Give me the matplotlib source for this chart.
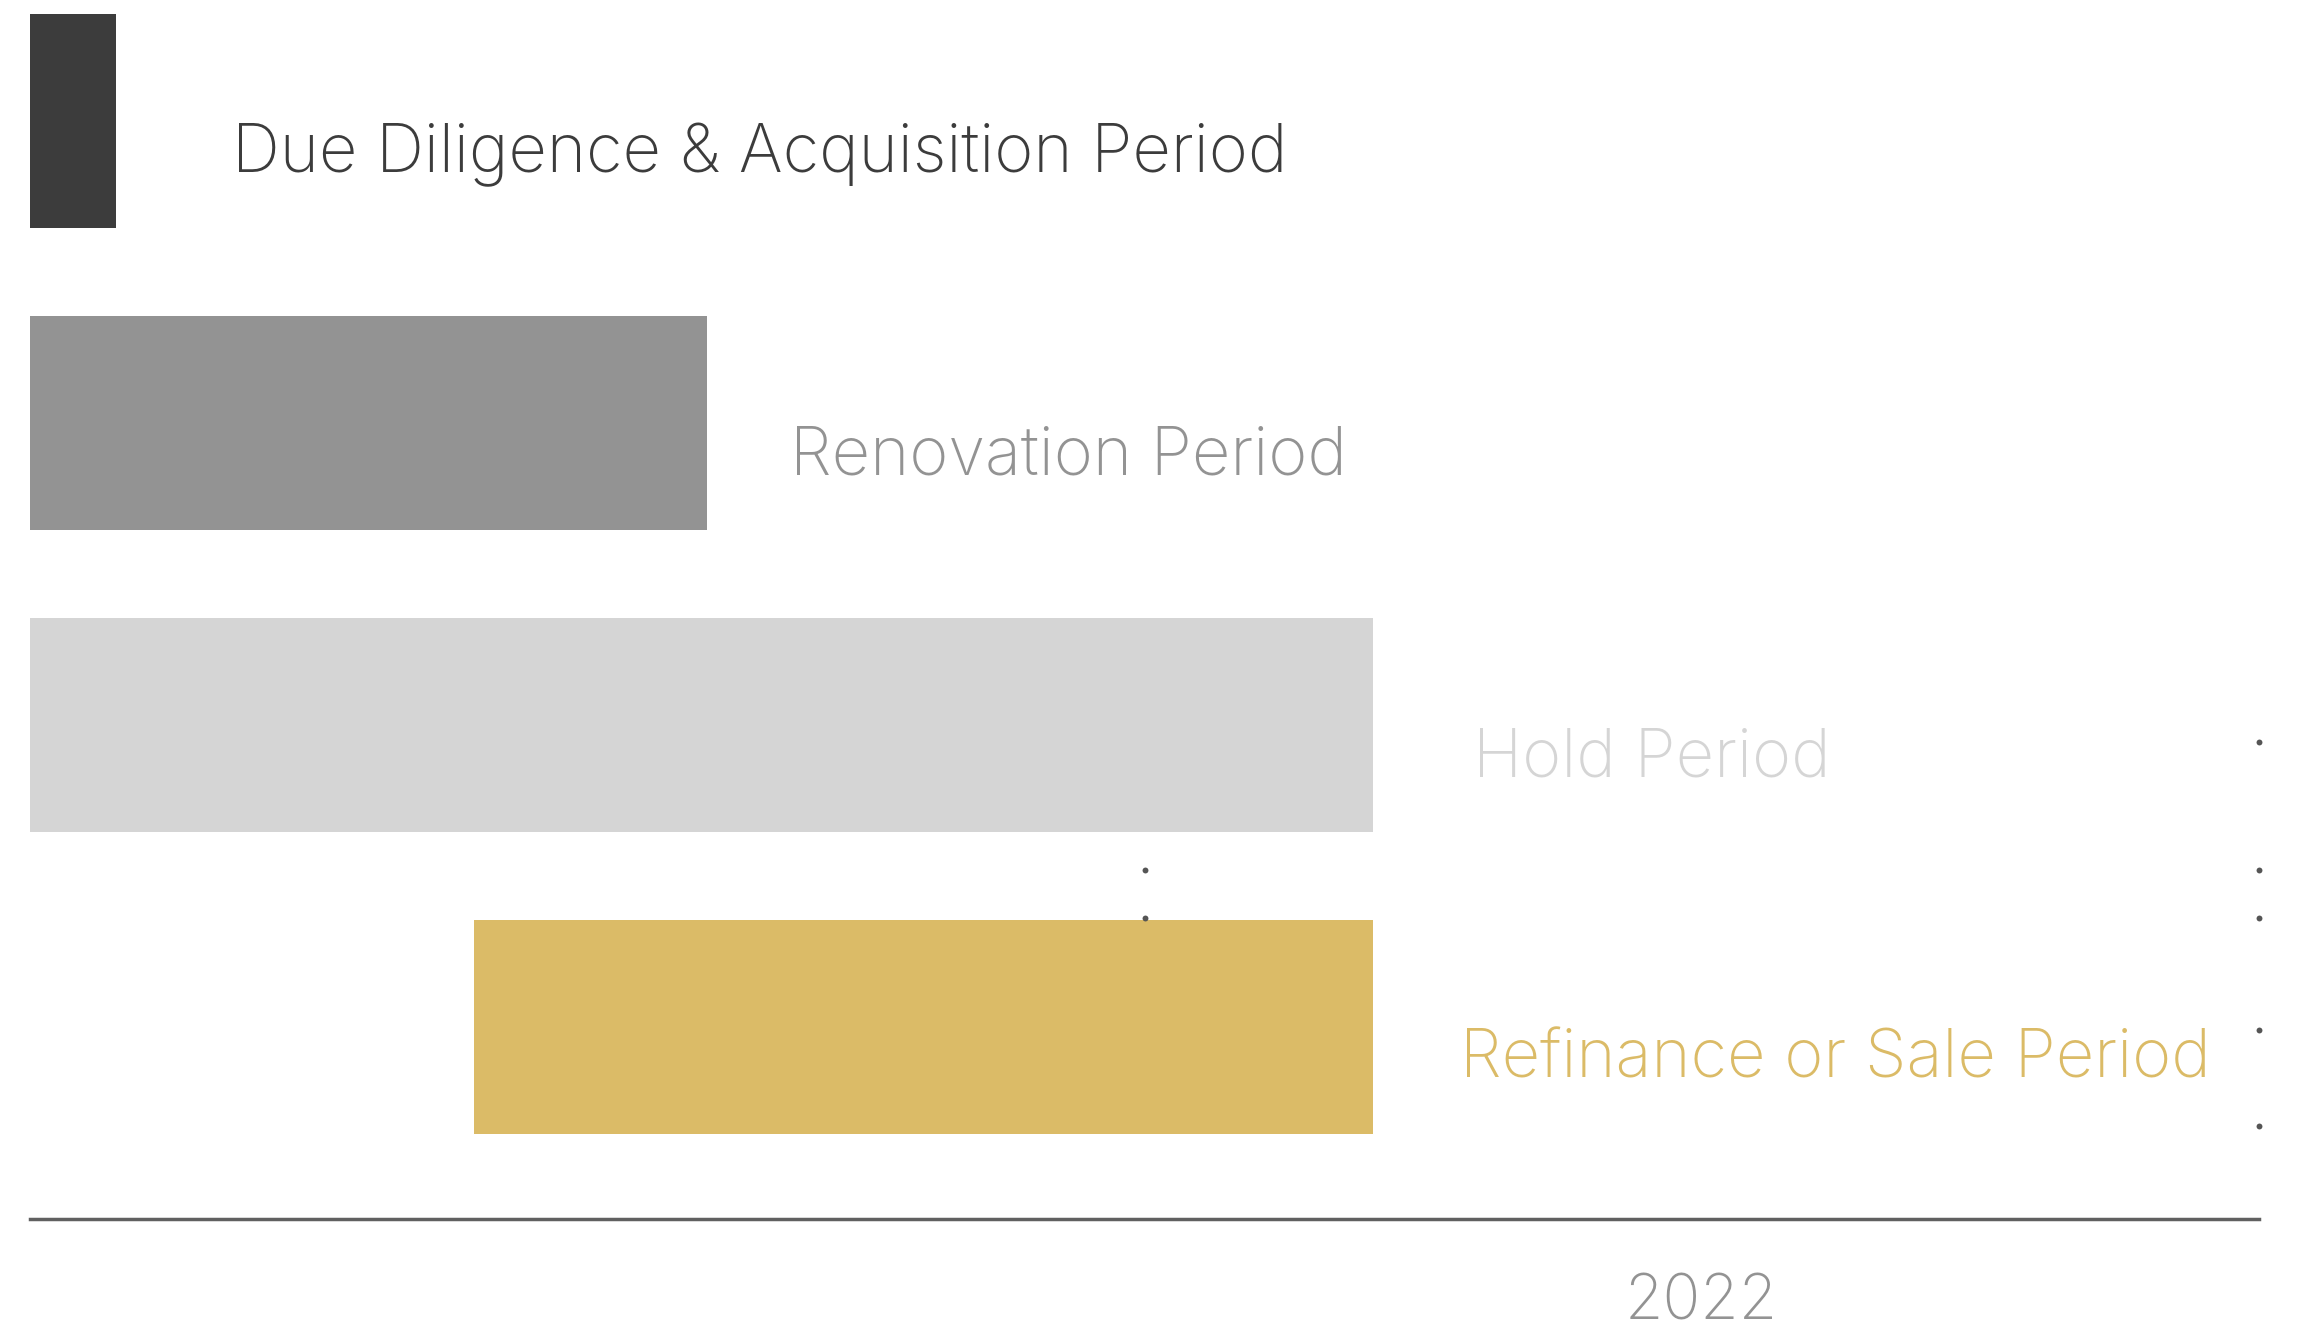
import matplotlib
matplotlib.use("Agg")
import matplotlib.pyplot as plt

# ---- data ----
phases = ["Due Diligence & Acquisition Period", "Renovation Period",
          "Hold Period", "Refinance or Sale Period"]
starts = [0.0, 0.0, 0.0, 5.18]
ends = [1.0, 7.9, 15.67, 15.67]
tick_positions = [19.49]
tick_labels = ["2022"]
dot_x = [13, 13, 26, 26, 26, 26, 26]
dot_y = [2.48, 2.639, 2.056, 2.48, 2.639, 3.01, 3.328]

# ---- style ----
colors = ["#3c3c3c", "#939393", "#d5d5d5", "#dbbb67"]
label_pad = [1.36, 0.96, 1.16, 1.01]
FONT = "Inter"

fig = plt.figure(figsize=(23, 13.29), dpi=100)
ax = fig.add_axes([30 / 2300, 110 / 1329, 2229 / 2300, (1329 - 14 - 110) / 1329])

y = list(range(len(phases)))
widths = [e - s for s, e in zip(starts, ends)]
ax.barh(y, widths, left=starts, height=0.71, color=colors, zorder=2)

for yi, e, name, c, p in zip(y, ends, phases, colors, label_pad):
    ax.text(e + p, yi + 0.169, name, color=c, fontsize=48, family=FONT,
            fontweight="light", va="baseline", ha="left", zorder=3)

ax.scatter(dot_x, dot_y, s=18, color="#555555", zorder=4, linewidths=0, clip_on=False)

ax.set_xlim(0, 26)
ax.set_ylim(3.636, -0.355)
ax.set_yticks([])
ax.set_xticks(tick_positions)
ax.set_xticklabels(tick_labels, fontsize=45, family=FONT, fontweight="light", color="#939393")
ax.tick_params(axis="x", length=0, pad=39)
for s in ["top", "right", "left"]:
    ax.spines[s].set_visible(False)
ax.spines["bottom"].set_color("#606060")
ax.spines["bottom"].set_linewidth(2.5)
ax.spines["bottom"].set_zorder(5)

fig.savefig("out.png", dpi=100)
